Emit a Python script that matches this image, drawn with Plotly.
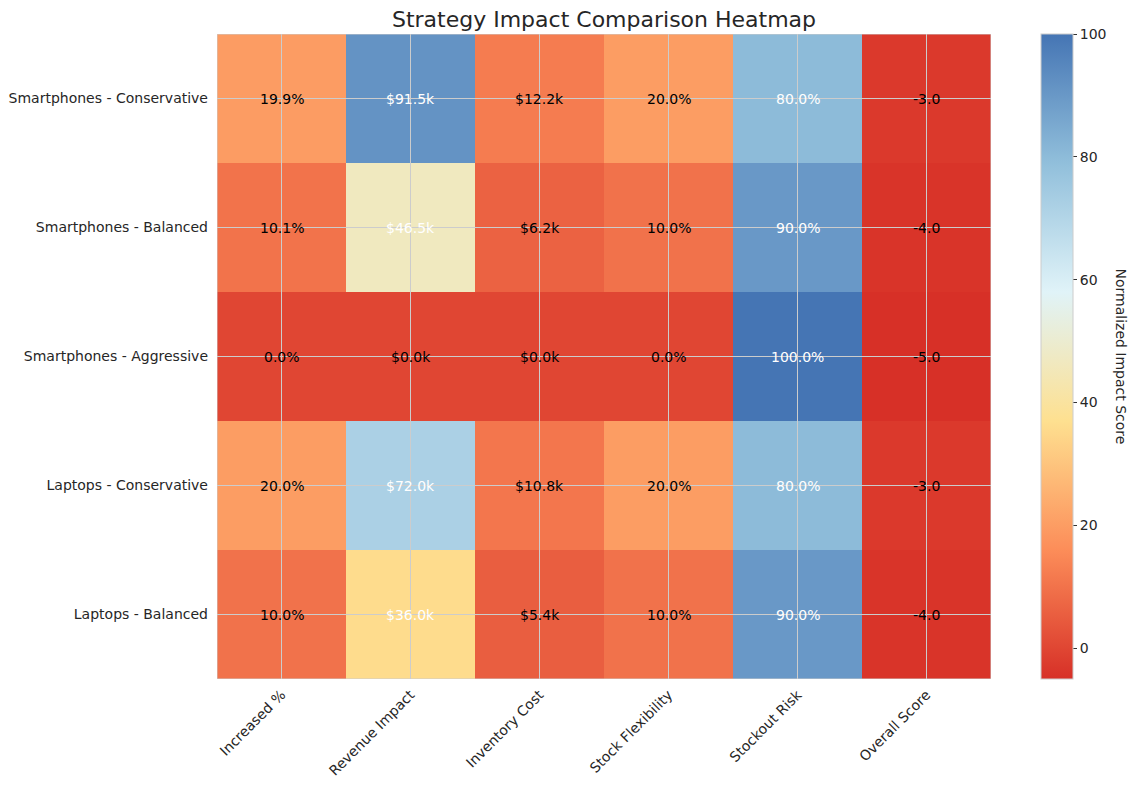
import plotly.graph_objects as go

strategies = [
    "Smartphones - Conservative",
    "Smartphones - Balanced",
    "Smartphones - Aggressive",
    "Laptops - Conservative",
    "Laptops - Balanced",
]
metrics = ["Increased %", "Revenue Impact", "Inventory Cost", "Stock Flexibility", "Stockout Risk", "Overall Score"]

increased_pct = [19.9, 10.1, 0.0, 20.0, 10.0]
revenue_k = [91.5, 46.5, 0.0, 72.0, 36.0]
inventory_k = [12.2, 6.2, 0.0, 10.8, 5.4]
flexibility = [20.0, 10.0, 0.0, 20.0, 10.0]
stockout = [80.0, 90.0, 100.0, 80.0, 90.0]
overall = [-3.0, -4.0, -5.0, -3.0, -4.0]

columns = [increased_pct, revenue_k, inventory_k, flexibility, stockout, overall]
formats = ["{:.1f}%", "${:.1f}k", "${:.1f}k", "{:.1f}%", "{:.1f}%", "{:.1f}"]

z = [[col[i] for col in columns] for i in range(len(strategies))]

colorscale = [
    [0.0, "#d73027"], [0.2, "#fc8d59"], [0.4, "#fee090"],
    [0.6, "#e0f3f8"], [0.8, "#91bfdb"], [1.0, "#4575b4"],
]

xs = list(range(len(metrics)))
ys = list(range(len(strategies)))

FS = 14

fig = go.Figure()
fig.add_trace(go.Heatmap(
    z=z, x=xs, y=ys, colorscale=colorscale, zmin=-5, zmax=100,
    xgap=0, ygap=0,
    colorbar=dict(
        thickness=32, len=1.0, lenmode="fraction", y=0.5, yanchor="middle",
        x=(1041 - 217) / 774, xanchor="left", xpad=0, ypad=0,
        outlinecolor="#cccccc", outlinewidth=1,
        tickvals=[0, 20, 40, 60, 80, 100], ticks="outside", ticklen=4,
        tickcolor="#333333", tickfont=dict(size=FS, color="#262626"),
    ),
    hoverinfo="skip",
))

annotations = []
for i, row in enumerate(z):
    for j, v in enumerate(row):
        annotations.append(dict(
            x=j, y=i, xref="x", yref="y", text=formats[j].format(v),
            showarrow=False,
            font=dict(size=FS, color="white" if v > 30 else "black",
                      family="DejaVu Sans"),
        ))
annotations.append(dict(
    x=(1121 - 217) / 774, y=0.5, xref="paper", yref="paper",
    text="Normalized Impact Score", textangle=90, showarrow=False,
    xanchor="center", yanchor="middle",
    font=dict(size=FS, color="#262626", family="DejaVu Sans"),
))

shapes = []
for j in xs:
    shapes.append(dict(type="line", xref="x", yref="y", x0=j, x1=j,
                       y0=-0.5, y1=len(strategies) - 0.5,
                       line=dict(color="#cccccc", width=1), layer="above"))
for i in ys:
    shapes.append(dict(type="line", xref="x", yref="y", y0=i, y1=i,
                       x0=-0.5, x1=len(metrics) - 0.5,
                       line=dict(color="#cccccc", width=1), layer="above"))
shapes.append(dict(type="rect", xref="x", yref="y", x0=-0.5, x1=len(metrics) - 0.5,
                   y0=-0.5, y1=len(strategies) - 0.5,
                   line=dict(color="#cccccc", width=1), layer="above"))

fig.update_layout(
    width=1137, height=788,
    margin=dict(l=217, r=146, t=34, b=109, autoexpand=False),
    paper_bgcolor="white", plot_bgcolor="white",
    font=dict(family="DejaVu Sans", color="#262626"),
    title=dict(text="Strategy Impact Comparison Heatmap", x=(217 + 991) / 2 / 1137,
               xanchor="center", y=1 - 19 / 788, yanchor="middle",
               font=dict(size=22, color="#262626")),
    annotations=annotations,
    shapes=shapes,
    xaxis=dict(tickvals=xs, ticktext=metrics, tickangle=-45, showgrid=False,
               zeroline=False, ticks="", range=[-0.5, len(metrics) - 0.5],
               ticklabelstandoff=4, automargin=False,
               tickfont=dict(size=FS, color="#262626")),
    yaxis=dict(tickvals=ys, ticktext=strategies, showgrid=False, zeroline=False,
               ticks="", range=[len(strategies) - 0.5, -0.5],
               ticklabelstandoff=8, automargin=False,
               tickfont=dict(size=FS, color="#262626")),
)

fig.write_html("out.html")
